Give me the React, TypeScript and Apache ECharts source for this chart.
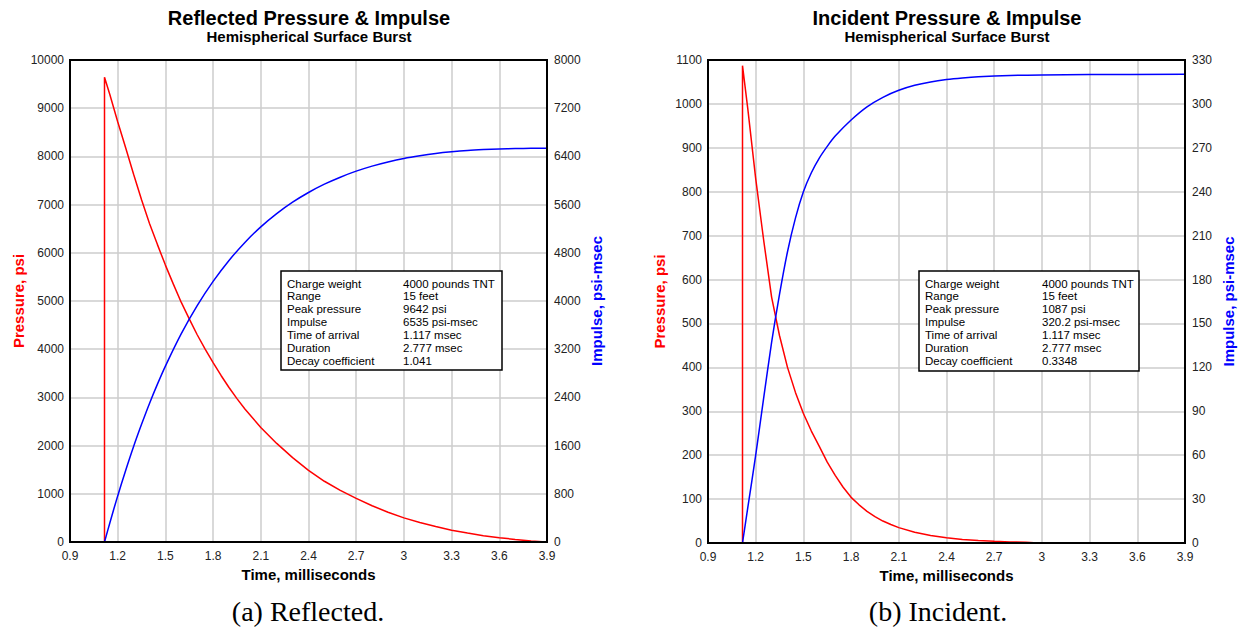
import React, { useEffect, useRef } from "react";
import * as echarts from "echarts";

// ---- Data ----
// time (ms), pressure (psi)
const reflectedPressure: [number, number][] = [
  [1.117, 0], [1.117, 9642], [1.15, 9290], [1.2, 8720], [1.25, 8180], [1.3, 7630],
  [1.35, 7100], [1.4, 6610], [1.45, 6170], [1.5, 5745], [1.55, 5350], [1.6, 4970],
  [1.65, 4630], [1.7, 4300], [1.75, 4000], [1.8, 3720], [1.85, 3455], [1.9, 3205],
  [1.95, 2975], [2.0, 2760], [2.1, 2375], [2.2, 2045], [2.3, 1750],
  [2.4, 1485], [2.5, 1260], [2.6, 1070], [2.7, 905], [2.8, 752], [2.9, 618],
  [3.0, 500], [3.1, 405], [3.2, 320], [3.3, 245], [3.4, 185], [3.5, 132],
  [3.6, 90], [3.7, 53], [3.8, 22], [3.894, 0],
];
// time (ms), impulse (psi-msec)
const reflectedImpulse: [number, number][] = [
  [1.117, 0], [1.15, 312], [1.2, 765], [1.25, 1187], [1.3, 1585], [1.35, 1953],
  [1.4, 2300], [1.45, 2620], [1.5, 2920], [1.6, 3458], [1.7, 3923], [1.8, 4325],
  [1.9, 4673], [2.0, 4972], [2.1, 5230], [2.2, 5450], [2.3, 5640], [2.4, 5801],
  [2.5, 5939], [2.6, 6055], [2.7, 6155], [2.8, 6239], [2.9, 6308], [3.0, 6366],
  [3.1, 6411], [3.2, 6448], [3.3, 6476], [3.4, 6498], [3.5, 6513], [3.6, 6524],
  [3.7, 6531], [3.8, 6534], [3.894, 6535],
];
const incidentPressure: [number, number][] = [
  [1.117, 0], [1.117, 1087], [1.15, 990], [1.2, 830], [1.25, 690], [1.3, 560],
  [1.35, 472], [1.4, 400], [1.45, 343], [1.5, 295], [1.55, 255], [1.6, 220],
  [1.65, 184], [1.7, 154], [1.75, 127], [1.8, 104], [1.85, 87], [1.9, 72],
  [1.95, 60], [2.0, 50], [2.05, 42], [2.1, 35], [2.2, 24.5], [2.3, 17],
  [2.4, 12], [2.5, 8], [2.6, 5.5], [2.7, 3.8], [2.8, 2.5], [2.9, 1.5], [2.95, 0.8],
];
const incidentImpulse: [number, number][] = [
  [1.117, 0], [1.15, 24], [1.2, 60], [1.25, 99], [1.3, 137], [1.35, 170],
  [1.4, 199], [1.45, 222], [1.5, 240], [1.55, 253], [1.6, 263], [1.65, 271],
  [1.7, 278], [1.8, 289], [1.9, 298], [2.0, 304.5], [2.1, 309.3], [2.2, 312.7],
  [2.3, 315], [2.4, 316.6], [2.5, 317.7], [2.6, 318.5], [2.8, 319.4], [3.0, 319.8],
  [3.3, 320.1], [3.894, 320.2],
];

// Axis ranges
const timeRange = [0.9, 3.9, 0.3];
const reflectedPressureRange = [0, 10000, 1000];
const reflectedImpulseRange = [0, 8000, 800];
const incidentPressureRange = [0, 1100, 100];
const incidentImpulseRange = [0, 330, 30];

// Texts
const chartTitles = ["Reflected Pressure & Impulse", "Incident Pressure & Impulse"];
const chartSubtitle = "Hemispherical Surface Burst";
const captions = ["(a) Reflected.", "(b) Incident."];
const infoLabels = [
  "Charge weight", "Range", "Peak pressure", "Impulse",
  "Time of arrival", "Duration", "Decay coefficient",
];
const reflectedInfoValues = [
  "4000 pounds TNT", "15 feet", "9642 psi", "6535 psi-msec",
  "1.117 msec", "2.777 msec", "1.041",
];
const incidentInfoValues = [
  "4000 pounds TNT", "15 feet", "1087 psi", "320.2 psi-msec",
  "1.117 msec", "2.777 msec", "0.3348",
];

const FONT = '"Liberation Sans", Arial, sans-serif';
const SERIF = '"Liberation Serif", "Times New Roman", serif';
const RED = "#ff0000";
const BLUE = "#0000ff";
const Z = 100;

function infoBox(x: number, y: number, w: number, h: number, valueX: number, values: string[]) {
  const els: any[] = [
    {
      type: "rect",
      z: Z,
      shape: { x, y, width: w, height: h },
      style: { fill: "#fff", stroke: "#000", lineWidth: 1.5 },
    },
  ];
  infoLabels.forEach((lab, i) => {
    els.push({
      type: "text",
      z: Z + 1,
      x: x + 6,
      y: y + 12.5 + i * 12.95,
      style: { text: lab, fill: "#000", font: `11.5px ${FONT}`, verticalAlign: "middle", align: "left" },
    });
    els.push({
      type: "text",
      z: Z + 1,
      x: x + valueX,
      y: y + 12.5 + i * 12.95,
      style: { text: values[i], fill: "#000", font: `11.5px ${FONT}`, verticalAlign: "middle", align: "left" },
    });
  });
  return els;
}

const plain = (v: number) => String(Math.round(v * 1000) / 1000);

function yAxis(grid: number, pos: "left" | "right", range: number[], name: string, color: string, gap: number, split: boolean) {
  return {
    type: "value",
    gridIndex: grid,
    position: pos,
    min: range[0],
    max: range[1],
    interval: range[2],
    axisLine: { show: false },
    axisTick: { show: false },
    splitLine: { show: split, lineStyle: { color: "#cccccc", width: 1.5 } },
    axisLabel: { fontSize: 12, color: "#222", margin: pos === "left" ? 6 : 7, fontFamily: FONT, formatter: plain },
    name,
    nameLocation: "middle",
    nameGap: gap,
    nameTextStyle: { fontSize: 15, fontWeight: "bold", color, fontFamily: FONT },
  };
}

function xAxis(grid: number) {
  return {
    type: "value",
    gridIndex: grid,
    min: timeRange[0],
    max: timeRange[1],
    interval: timeRange[2],
    axisLine: { show: false },
    axisTick: { show: false },
    splitLine: { show: true, lineStyle: { color: "#cccccc", width: 1.5 } },
    axisLabel: { fontSize: 12, color: "#222", margin: 8, fontFamily: FONT, formatter: plain },
    name: "Time, milliseconds",
    nameLocation: "middle",
    nameGap: 19,
    nameTextStyle: { fontSize: 15, fontWeight: "bold", color: "#000", fontFamily: FONT },
  };
}

function line(x: number, y: number, data: [number, number][], color: string, smooth: number | boolean) {
  return {
    type: "line",
    xAxisIndex: x,
    yAxisIndex: y,
    data,
    showSymbol: false,
    symbol: "none",
    smooth,
    lineStyle: { color, width: 1.5 },
    itemStyle: { color },
    silent: true,
  };
}

export default function App() {
  const ref = useRef<HTMLDivElement>(null);
  useEffect(() => {
    if (!ref.current) return;
    const chart = echarts.init(ref.current, null, { renderer: "svg" });
    const titleStyle = { fontSize: 20, fontWeight: "bold", color: "#000", fontFamily: FONT };
    const subStyle = { fontSize: 15, fontWeight: "bold", color: "#000", fontFamily: FONT };
    const option: any = {
      animation: false,
      backgroundColor: "#fff",
      textStyle: { fontFamily: FONT },
      title: [
        { text: chartTitles[0], subtext: chartSubtitle, left: 304, top: 3, textAlign: "center", itemGap: 1, textStyle: titleStyle, subtextStyle: subStyle },
        { text: chartTitles[1], subtext: chartSubtitle, left: 942, top: 3, textAlign: "center", itemGap: 1, textStyle: titleStyle, subtextStyle: subStyle },
      ],
      grid: [
        { left: 70, top: 60, width: 477, height: 482, show: true, borderColor: "#000", borderWidth: 2, z: 5 },
        { left: 708, top: 60, width: 477, height: 483, show: true, borderColor: "#000", borderWidth: 2, z: 5 },
      ],
      xAxis: [xAxis(0), xAxis(1)],
      yAxis: [
        yAxis(0, "left", reflectedPressureRange, "Pressure, psi", RED, 44, true),
        yAxis(0, "right", reflectedImpulseRange, "Impulse, psi-msec", BLUE, 42, false),
        yAxis(1, "left", incidentPressureRange, "Pressure, psi", RED, 41, true),
        yAxis(1, "right", incidentImpulseRange, "Impulse, psi-msec", BLUE, 36, false),
      ],
      series: [
        line(0, 0, reflectedPressure, RED, false),
        line(0, 1, reflectedImpulse, BLUE, 0.3),
        line(1, 2, incidentPressure, RED, false),
        line(1, 3, incidentImpulse, BLUE, 0.3),
      ],
      graphic: [
        ...infoBox(281, 271, 221, 99, 122, reflectedInfoValues),
        ...infoBox(919, 271, 220, 100, 123, incidentInfoValues),
        {
          type: "text", x: 308, y: 611, z: Z,
          style: { text: captions[0], fill: "#000", font: `28px ${SERIF}`, align: "center", verticalAlign: "middle" },
        },
        {
          type: "text", x: 938, y: 611, z: Z,
          style: { text: captions[1], fill: "#000", font: `28px ${SERIF}`, align: "center", verticalAlign: "middle" },
        },
      ],
    };
    chart.setOption(option);
    return () => chart.dispose();
  }, []);
  return (
    <div
      ref={ref}
      style={{ position: "fixed", left: 0, top: 0, width: 1244, height: 632, background: "#fff" }}
    />
  );
}
